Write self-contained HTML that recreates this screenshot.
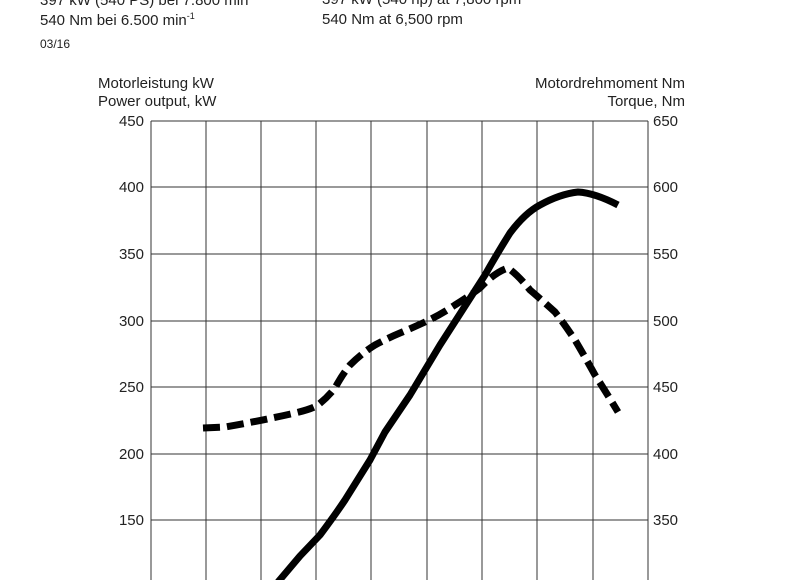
<!DOCTYPE html><html><head><style>
body{margin:0;background:#fff;width:799px;height:580px;overflow:hidden;position:relative;font-family:"Liberation Sans",sans-serif;color:#222}
.t{position:absolute;font-size:15px;white-space:nowrap}
sup{font-size:9px}
</style></head><body>
<div class="t" style="left:40px;top:-9px">397 kW (540 PS) bei 7.800 min<sup>-1</sup></div>
<div class="t" style="left:40px;top:11px">540 Nm bei 6.500 min<sup>-1</sup></div>
<div class="t" style="left:40px;top:37px;font-size:12px">03/16</div>
<div class="t" style="left:322px;top:-9px">397 kW (540 hp) at 7,800 rpm</div>
<div class="t" style="left:322px;top:11px">540 Nm at 6,500 rpm</div>
<div class="t" style="left:98px;top:75px">Motorleistung kW</div>
<div class="t" style="left:98px;top:93px">Power output, kW</div>
<div class="t" style="right:114px;top:75px">Motordrehmoment Nm</div>
<div class="t" style="right:114px;top:93px">Torque, Nm</div>
<svg width="799" height="580" style="position:absolute;left:0;top:0">
<g stroke="#333" stroke-width="1" fill="none">
<line x1="151" y1="121" x2="648" y2="121"/><line x1="151" y1="187" x2="648" y2="187"/><line x1="151" y1="254" x2="648" y2="254"/><line x1="151" y1="321" x2="648" y2="321"/><line x1="151" y1="387" x2="648" y2="387"/><line x1="151" y1="454" x2="648" y2="454"/><line x1="151" y1="520" x2="648" y2="520"/>
<line x1="151" y1="121" x2="151" y2="580"/><line x1="206" y1="121" x2="206" y2="580"/><line x1="261" y1="121" x2="261" y2="580"/><line x1="316" y1="121" x2="316" y2="580"/><line x1="371" y1="121" x2="371" y2="580"/><line x1="427" y1="121" x2="427" y2="580"/><line x1="482" y1="121" x2="482" y2="580"/><line x1="537" y1="121" x2="537" y2="580"/><line x1="593" y1="121" x2="593" y2="580"/><line x1="648" y1="121" x2="648" y2="580"/>
</g>
<g font-size="15" fill="#222">
<text x="144" y="126" text-anchor="end">450</text><text x="144" y="192" text-anchor="end">400</text><text x="144" y="259" text-anchor="end">350</text><text x="144" y="326" text-anchor="end">300</text><text x="144" y="392" text-anchor="end">250</text><text x="144" y="459" text-anchor="end">200</text><text x="144" y="525" text-anchor="end">150</text>
<text x="653" y="126">650</text><text x="653" y="192">600</text><text x="653" y="259">550</text><text x="653" y="326">500</text><text x="653" y="392">450</text><text x="653" y="459">400</text><text x="653" y="525">350</text>
</g>
<path d="M278,582 L300,556 L320,535 Q335,515 345,500 L370,460 Q378,445 385,432 L410,395 Q425,370 440,345 L485,275 Q498,252 510,233 Q525,213 540,205 Q560,194 578,192 Q595,193 618,205" fill="none" stroke="#000" stroke-width="7" stroke-linejoin="round"/>
<path d="M203,428 L225,427 Q260,421 295,413 Q312,409 318,405 Q328,397 335,388 Q342,375 350,365 Q362,353 375,345 Q388,338 400,333 Q412,328 425,322 Q440,315 455,305 Q468,297 480,288 Q495,272 508,268 Q518,275 530,290 Q543,301 555,312 Q565,325 575,340 Q585,357 595,375 Q606,392 618,412" fill="none" stroke="#000" stroke-width="7" stroke-dasharray="17,7"/>
</svg>
</body></html>
